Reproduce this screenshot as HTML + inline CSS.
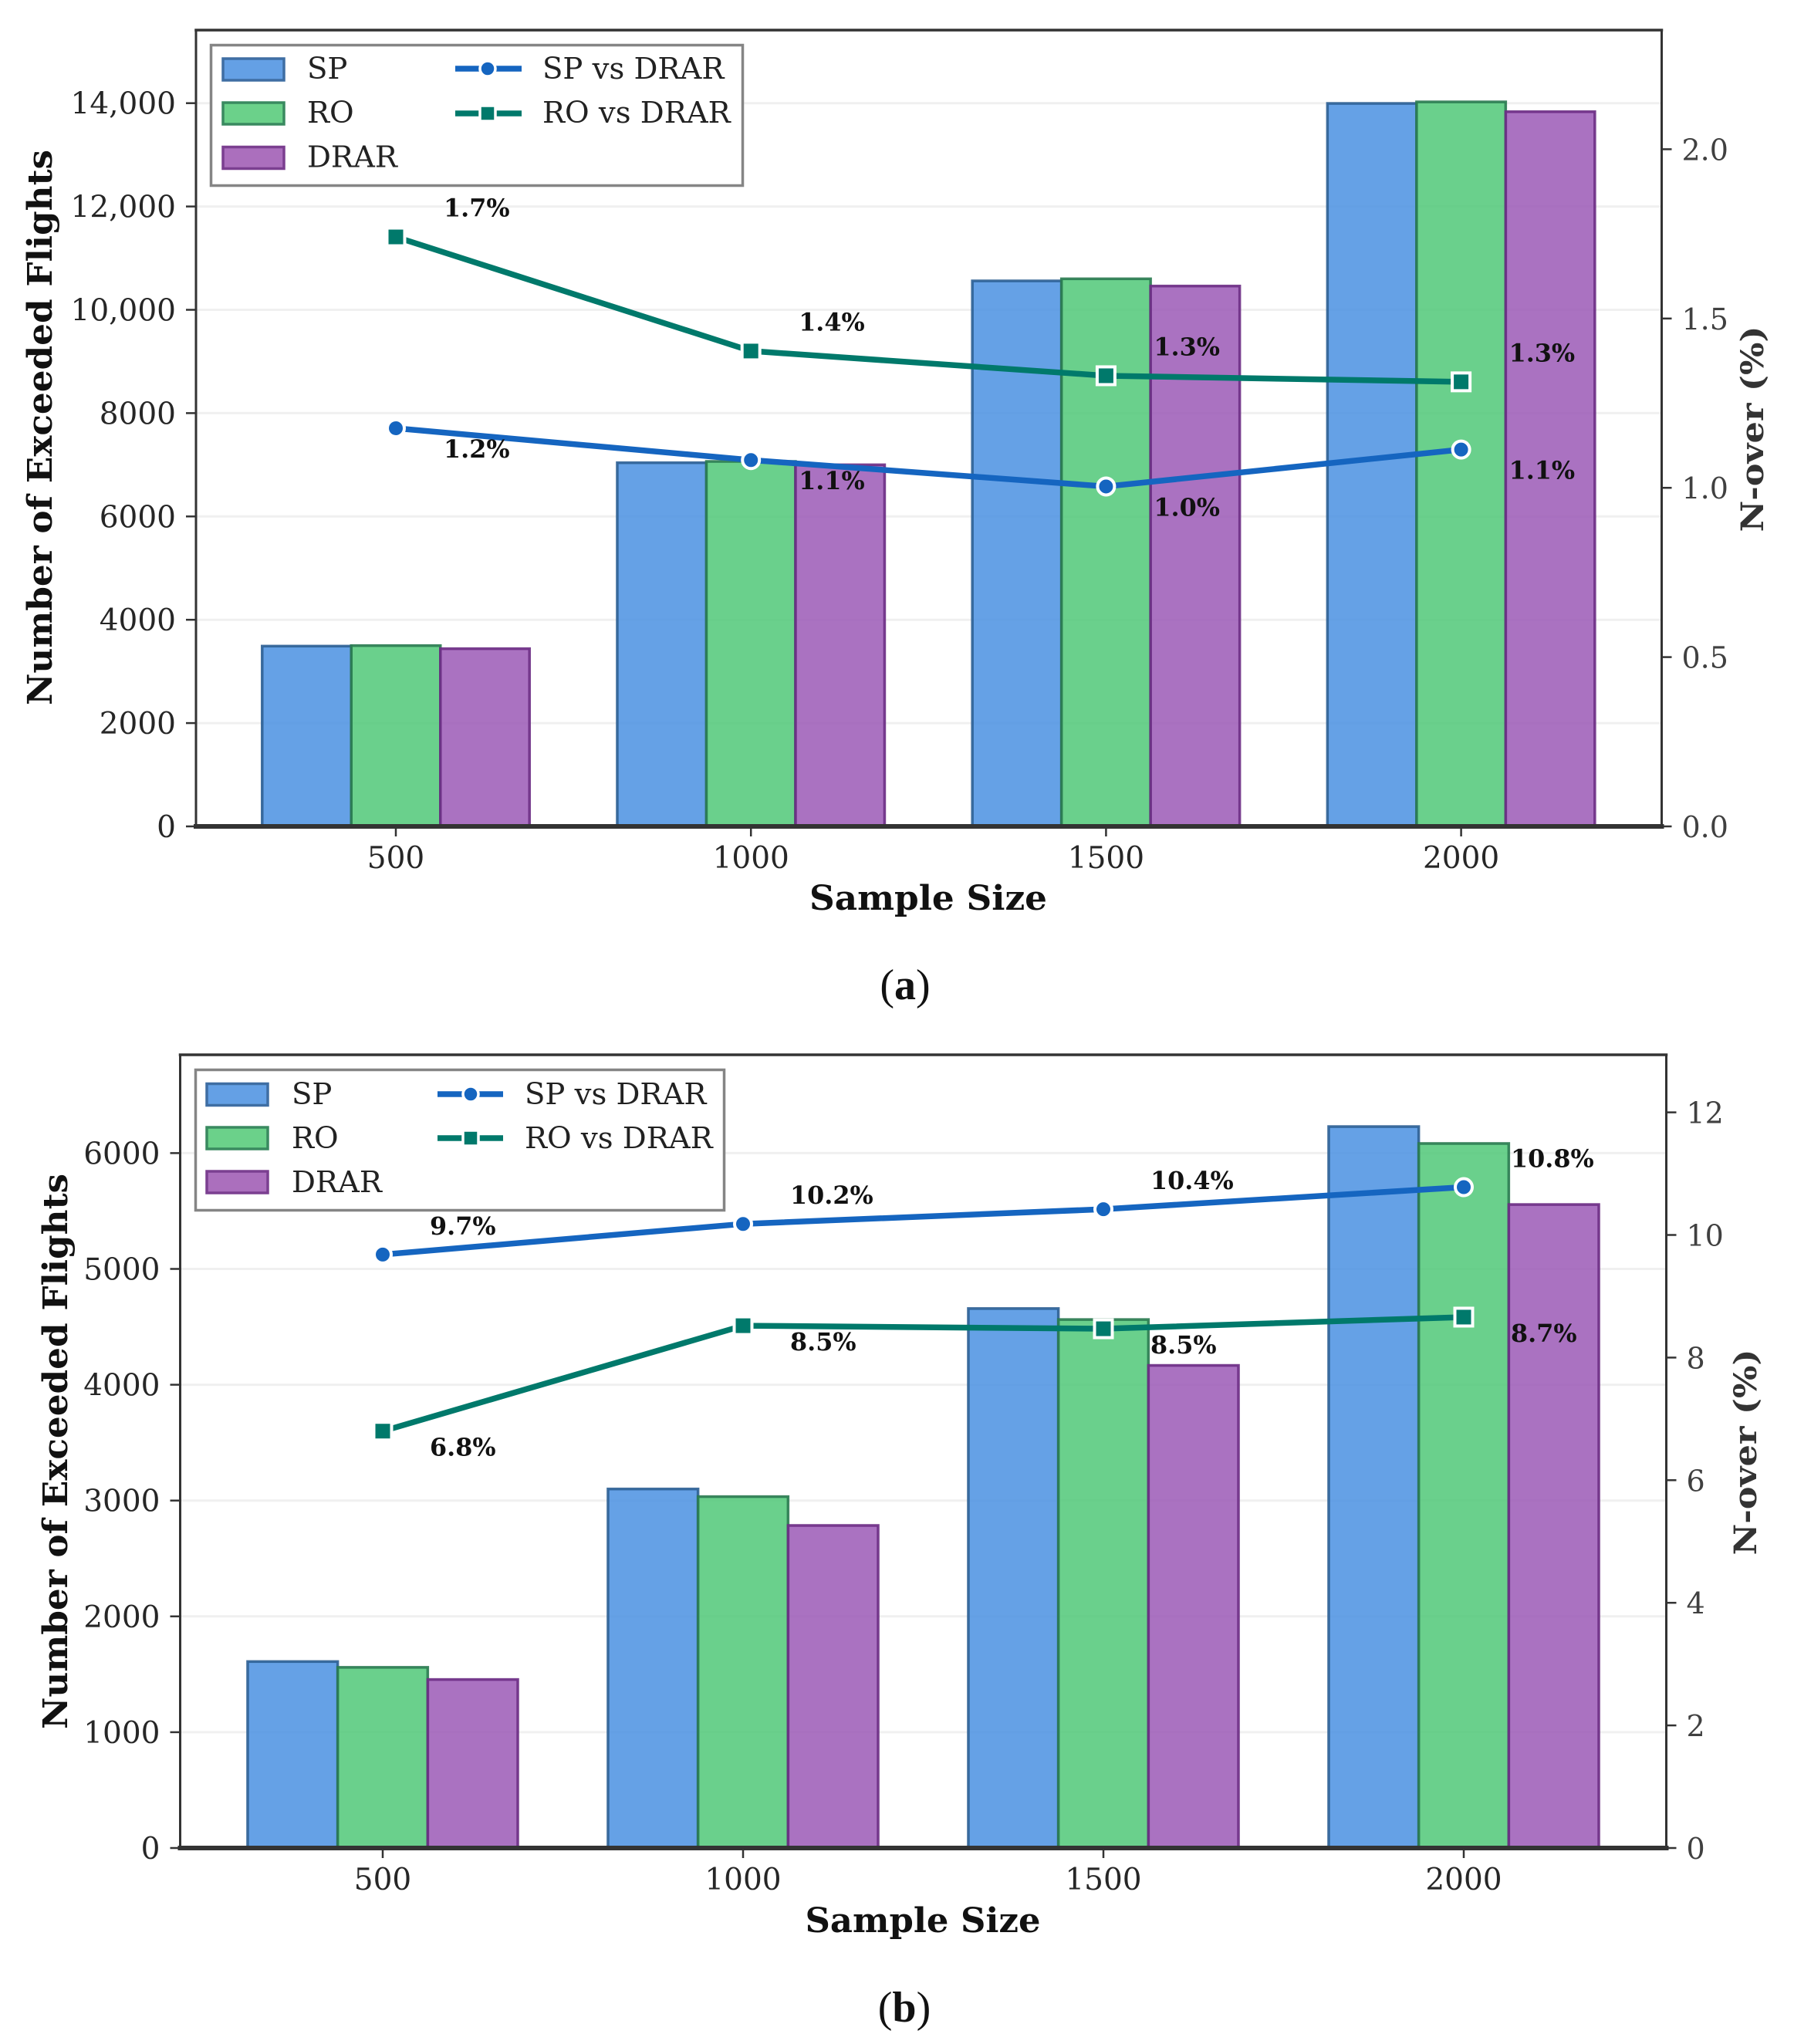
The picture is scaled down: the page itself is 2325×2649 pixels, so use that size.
<!DOCTYPE html>
<html lang="en">
<head>
<meta charset="utf-8">
<title>Exceeded Flights and N-over by Sample Size</title>
<style>
html,body{margin:0;padding:0;background:#fff;}
svg{display:block;}
text{font-family:"DejaVu Serif","Liberation Serif",serif;}
.tick{font-size:39px;fill:#262626;}
.tickr{font-size:38px;fill:#404040;}
.axt{font-size:44px;font-weight:bold;fill:#111;}
.axr{font-size:40px;font-weight:bold;fill:#333;}
.val{font-size:31.8px;font-weight:bold;fill:#111;}
.leg{font-size:38.6px;fill:#222;}
.cap{font-family:"Liberation Serif",serif;font-size:56px;fill:#111;}
</style>
</head>
<body>
<svg id="fig" xmlns="http://www.w3.org/2000/svg" width="2325" height="2649" viewBox="0 0 2325 2649">
  <rect x="0" y="0" width="2325" height="2649" fill="#fff"/>
  <g id="panelA"></g>
  <g id="panelB"></g>

  <g>
    <text class="axt" transform="translate(67,554) rotate(-90)" text-anchor="middle" textLength="720" lengthAdjust="spacingAndGlyphs">Number of Exceeded Flights</text>
    <text class="axr" transform="translate(2285,556) rotate(-90)" text-anchor="middle" textLength="267" lengthAdjust="spacingAndGlyphs">N-over (%)</text>
    <text class="axt" x="1203" y="1179" text-anchor="middle" textLength="308" lengthAdjust="spacingAndGlyphs">Sample Size</text>
    <text class="cap" x="1173" y="1295" text-anchor="middle">(<tspan font-weight="bold">a</tspan>)</text>
  </g>
  <g>
    <text class="axt" transform="translate(87,1881) rotate(-90)" text-anchor="middle" textLength="720" lengthAdjust="spacingAndGlyphs">Number of Exceeded Flights</text>
    <text class="axr" transform="translate(2276,1882) rotate(-90)" text-anchor="middle" textLength="267" lengthAdjust="spacingAndGlyphs">N-over (%)</text>
    <text class="axt" x="1196" y="2504" text-anchor="middle" textLength="305" lengthAdjust="spacingAndGlyphs">Sample Size</text>
    <text class="cap" x="1172" y="2620" text-anchor="middle">(<tspan font-weight="bold">b</tspan>)</text>
  </g>

  <g>
    <rect x="273.5" y="58.5" width="689" height="182" fill="#fff" fill-opacity="0.95" stroke="#858585" stroke-width="3.5"/>
    <rect x="289" y="76" width="79" height="28" fill="#64a0e5" stroke="#3f6ea3" stroke-width="3.5"/>
    <text class="leg" x="398" y="102">SP</text>
    <rect x="289" y="133" width="79" height="28" fill="#6bd18a" stroke="#3a8a60" stroke-width="3.5"/>
    <text class="leg" x="398" y="159">RO</text>
    <rect x="289" y="190.5" width="79" height="28" fill="#ab6fbd" stroke="#7b3f90" stroke-width="3.5"/>
    <text class="leg" x="398" y="216.5">DRAR</text>
    <line x1="590" y1="89" x2="676" y2="89" stroke="#1565c0" stroke-width="7.5"/>
    <circle cx="632" cy="89" r="10" fill="#1565c0" stroke="#fff" stroke-width="3.5"/>
    <text class="leg" x="703" y="102">SP vs DRAR</text>
    <line x1="590" y1="147" x2="676" y2="147" stroke="#00796b" stroke-width="7.5"/>
    <rect x="622" y="137" width="20" height="20" fill="#00796b" stroke="#fff" stroke-width="3.5"/>
    <text class="leg" x="703" y="159">RO vs DRAR</text>
  </g>
  <g>
    <rect x="253.5" y="1386.5" width="685" height="182" fill="#fff" fill-opacity="0.95" stroke="#858585" stroke-width="3.5"/>
    <rect x="268" y="1404.5" width="79" height="28" fill="#64a0e5" stroke="#3f6ea3" stroke-width="3.5"/>
    <text class="leg" x="378" y="1431">SP</text>
    <rect x="268" y="1461" width="79" height="28" fill="#6bd18a" stroke="#3a8a60" stroke-width="3.5"/>
    <text class="leg" x="378" y="1488">RO</text>
    <rect x="268" y="1518" width="79" height="28" fill="#ab6fbd" stroke="#7b3f90" stroke-width="3.5"/>
    <text class="leg" x="378" y="1545">DRAR</text>
    <line x1="567" y1="1418" x2="652" y2="1418" stroke="#1565c0" stroke-width="7.5"/>
    <circle cx="610" cy="1418" r="10" fill="#1565c0" stroke="#fff" stroke-width="3.5"/>
    <text class="leg" x="680" y="1431">SP vs DRAR</text>
    <line x1="567" y1="1475" x2="652" y2="1475" stroke="#00796b" stroke-width="7.5"/>
    <rect x="600" y="1465" width="20" height="20" fill="#00796b" stroke="#fff" stroke-width="3.5"/>
    <text class="leg" x="680" y="1488">RO vs DRAR</text>
  </g>
</svg>
<script>
// ---- chart data ----
const categories = [500, 1000, 1500, 2000];
const categoryLabels = ["500", "1000", "1500", "2000"];

const aSP = [3490, 7040, 10560, 13995];
const aRO = [3500, 7065, 10600, 14025];
const aDRAR = [3440, 7000, 10460, 13835];
const aSPvsDRAR = [1.176, 1.082, 1.004, 1.113];
const aROvsDRAR = [1.741, 1.404, 1.331, 1.313];
const aSPLabels = ["1.2%", "1.1%", "1.0%", "1.1%"];
const aROLabels = ["1.7%", "1.4%", "1.3%", "1.3%"];
const aLeftTicks = [0, 2000, 4000, 6000, 8000, 10000, 12000, 14000];
const aLeftTickLabels = ["0", "2000", "4000", "6000", "8000", "10,000", "12,000", "14,000"];
const aRightTicks = [0, 0.5, 1, 1.5, 2];
const aRightTickLabels = ["0.0", "0.5", "1.0", "1.5", "2.0"];

const bSP = [1610, 3100, 4658, 6229];
const bRO = [1560, 3034, 4563, 6083];
const bDRAR = [1455, 2785, 4167, 5556];
const bSPvsDRAR = [9.68, 10.18, 10.42, 10.78];
const bROvsDRAR = [6.80, 8.52, 8.47, 8.66];
const bSPLabels = ["9.7%", "10.2%", "10.4%", "10.8%"];
const bROLabels = ["6.8%", "8.5%", "8.5%", "8.7%"];
const bLeftTicks = [0, 1000, 2000, 3000, 4000, 5000, 6000];
const bLeftTickLabels = ["0", "1000", "2000", "3000", "4000", "5000", "6000"];
const bRightTicks = [0, 2, 4, 6, 8, 10, 12];
const bRightTickLabels = ["0", "2", "4", "6", "8", "10", "12"];

// ---- drawing ----
const NS = "http://www.w3.org/2000/svg";
function mk(parent, tag, attrs, txt) {
  const e = document.createElementNS(NS, tag);
  for (const k in attrs) e.setAttribute(k, attrs[k]);
  if (txt !== undefined) e.textContent = txt;
  parent.appendChild(e);
  return e;
}

function drawPanel(root, g, d) {
  const xPos = v => g.x0 + (v - categories[0]) / (categories[1] - categories[0]) * g.step;
  const yL = v => g.bottom - v * g.leftPx;
  const yR = v => g.bottom - v * g.rightPx;

  // grid
  d.leftTicks.forEach(t => {
    if (t === 0) return;
    const ln = mk(root, "line", {x1: g.left, x2: g.right, y1: yL(t), y2: yL(t), stroke: "#f0f0f0", "stroke-width": 3});
    
    
  });

  // bars
  const barSeries = [
    {vals: d.sp, fill: "#4a90e2", edge: "#2c5f94", key: "sp"},
    {vals: d.ro, fill: "#50c878", edge: "#2a7a50", key: "ro"},
    {vals: d.drar, fill: "#9b59b6", edge: "#6c2c84", key: "drar"}
  ];
  barSeries.forEach((s, si) => {
    s.vals.forEach((v, i) => {
      const cx = xPos(categories[i]) + (si - 1) * g.barW;
      const r = mk(root, "rect", {x: cx - g.barW / 2, y: yL(v), width: g.barW, height: g.bottom - yL(v), fill: s.fill, "fill-opacity": 0.85, stroke: s.edge, "stroke-opacity": 0.9, "stroke-width": 3.5});
      
      
    });
  });

  // spines
  const spines = [
    [g.left, g.top, g.right, g.top, 3.5, "top"],
    [g.left, g.top, g.left, g.bottom, 3, "left"],
    [g.right, g.top, g.right, g.bottom, 3, "right"],
    [g.left, g.bottom, g.right, g.bottom, 6, "bottom"]
  ];
  spines.forEach(s => {
    const ln = mk(root, "line", {x1: s[0], y1: s[1], x2: s[2], y2: s[3], stroke: "#333", "stroke-width": s[4], "stroke-linecap": "square"});
    
    
  });

  // left ticks
  d.leftTicks.forEach((t, i) => {
    const ln = mk(root, "line", {x1: g.left - 13, x2: g.left, y1: yL(t), y2: yL(t), stroke: "#333", "stroke-width": 2.5});
    
    
    const tx = mk(root, "text", {x: g.left - 26, y: yL(t) + 14, "text-anchor": "end", "class": "tick"}, d.leftLabels[i]);
    
    
  });
  // right ticks
  d.rightTicks.forEach((t, i) => {
    const ln = mk(root, "line", {x1: g.right, x2: g.right + 13, y1: yR(t), y2: yR(t), stroke: "#333", "stroke-width": 2.5});
    
    
    const tx = mk(root, "text", {x: g.right + 26, y: yR(t) + 14, "class": "tickr"}, d.rightLabels[i]);
    
    
  });
  // x ticks
  categories.forEach((c, i) => {
    const ln = mk(root, "line", {x1: xPos(c), x2: xPos(c), y1: g.bottom, y2: g.bottom + 13, stroke: "#333", "stroke-width": 2.5});
    
    
    const tx = mk(root, "text", {x: xPos(c), y: g.bottom + 54, "text-anchor": "middle", "class": "tick"}, categoryLabels[i]);
    
    
  });

  // lines
  const lineSeries = [
    {vals: d.roLine, color: "#00796b", shape: "square", key: "ro-vs-drar", labels: d.roLabels, dy: g.roDy},
    {vals: d.spLine, color: "#1565c0", shape: "circle", key: "sp-vs-drar", labels: d.spLabels, dy: g.spDy}
  ];
  lineSeries.forEach(s => {
    const pts = s.vals.map((v, i) => xPos(categories[i]) + "," + yR(v)).join(" ");
    const pl = mk(root, "polyline", {points: pts, fill: "none", stroke: s.color, "stroke-width": 7.5, "stroke-linejoin": "round"});
    
    
    s.vals.forEach((v, i) => {
      const px = xPos(categories[i]), py = yR(v);
      let m;
      if (s.shape === "circle") {
        m = mk(root, "circle", {cx: px, cy: py, r: 11, fill: s.color, stroke: "#fff", "stroke-width": 4});
      } else {
        m = mk(root, "rect", {x: px - 11.5, y: py - 11.5, width: 23, height: 23, fill: s.color, stroke: "#fff", "stroke-width": 4});
      }
      
      
    });
  });
  lineSeries.forEach(s => {
    s.vals.forEach((v, i) => {
      const t = mk(root, "text", {x: xPos(categories[i]) + g.labelDx - 1, y: yR(v) + s.dy + 11, "class": "val"}, s.labels[i]);
      
      
    });
  });
}

const layoutA = {left: 254, right: 2153.5, top: 39, bottom: 1071, x0: 513, step: 460.2, barW: 115.5, leftPx: 0.06695, rightPx: 438.8, labelDx: 63, roDy: -37.5, spDy: 27};
const layoutB = {left: 233.5, right: 2159.5, top: 1367, bottom: 2395, x0: 496, step: 467, barW: 116.7, leftPx: 0.1501, rightPx: 79.45, labelDx: 62, roDy: 21, spDy: -37};

drawPanel(document.getElementById("panelA"), layoutA, {
  sp: aSP, ro: aRO, drar: aDRAR, spLine: aSPvsDRAR, roLine: aROvsDRAR,
  spLabels: aSPLabels, roLabels: aROLabels,
  leftTicks: aLeftTicks, leftLabels: aLeftTickLabels,
  rightTicks: aRightTicks, rightLabels: aRightTickLabels
});
drawPanel(document.getElementById("panelB"), layoutB, {
  sp: bSP, ro: bRO, drar: bDRAR, spLine: bSPvsDRAR, roLine: bROvsDRAR,
  spLabels: bSPLabels, roLabels: bROLabels,
  leftTicks: bLeftTicks, leftLabels: bLeftTickLabels,
  rightTicks: bRightTicks, rightLabels: bRightTickLabels
});
</script>
</body>
</html>
